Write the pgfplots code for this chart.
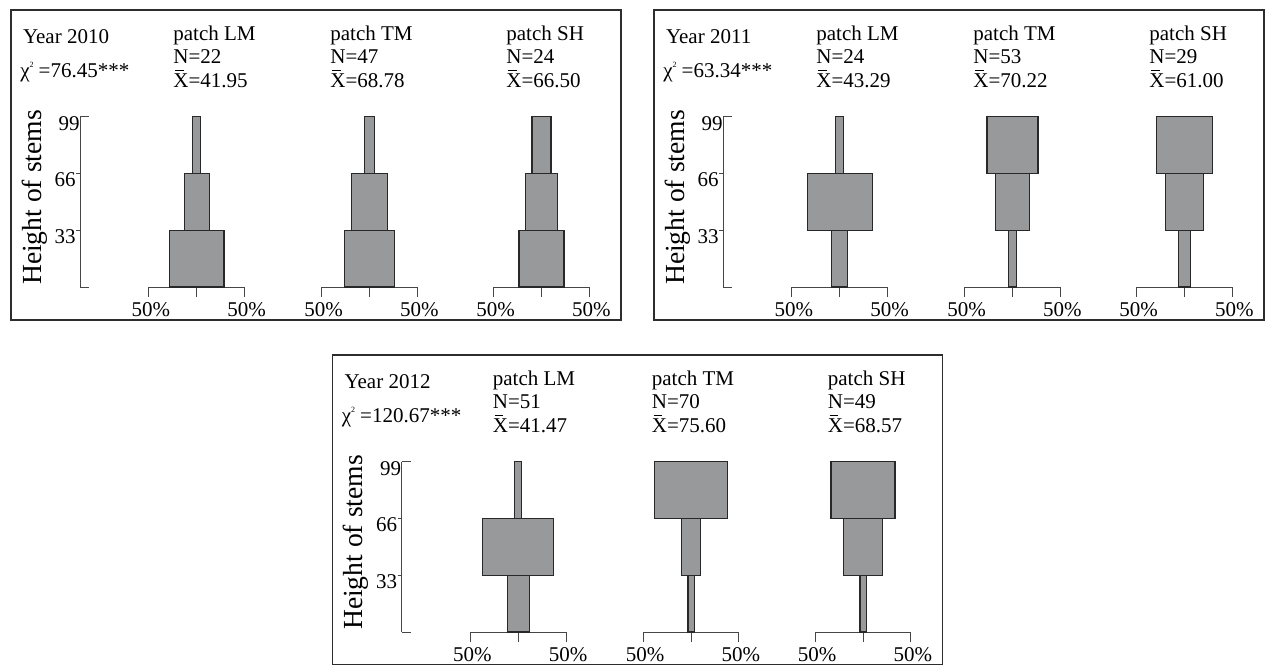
\documentclass[border=0pt]{standalone}
\usepackage{pgfplots}
\pgfplotsset{compat=1.18}
\usepackage{pgfplotstable}
\usepackage{fontspec}
\setmainfont{Liberation Serif}

\definecolor{barfill}{RGB}{152,153,155}
\definecolor{barline}{RGB}{40,40,40}
\definecolor{axisgray}{RGB}{70,70,70}
\definecolor{framec}{RGB}{45,45,45}

% share of stems (%) in each height class, per patch
\pgfplotstableread{
h    LM  TM  SH
16.5 57  53  47
49.5 26  37  33
82.5 8.5 11  20
}\yrA
\pgfplotstableread{
h    LM  TM   SH
16.5 17  8    12.5
49.5 68  35   39.5
82.5 8.5 53.5 58
}\yrB
\pgfplotstableread{
h    LM  TM  SH
16.5 23  6.5 6.5
49.5 74  20  40
82.5 7.5 76  67
}\yrC

\pgfplotsset{
  kite/.style={
    scale only axis, width=47.8pt, height=85.15pt,
    xmin=0, xmax=100, ymin=0, ymax=99, enlargelimits=false,
    anchor=south, clip=false,
    axis x line=bottom, axis y line=none,
    x axis line style={-}, axis line style={axisgray, line width=0.5pt},
    xtick={0,50,100}, xticklabels={50\%,,50\%},
    tick align=outside, major tick length=5pt,
    tick style={axisgray, line width=0.5pt},
    xticklabel style={font=\fontsize{10.5}{12}\selectfont, anchor=base, inner sep=0pt, yshift=-9.5pt, xshift=1pt},
    xbar stacked, bar width=33,
  },
  kitebar/.style={fill=barfill, draw=barline, line width=0.6pt},
  heightaxis/.style={
    scale only axis, width=10pt, height=85.15pt,
    xmin=0, xmax=1, ymin=0, ymax=99, enlargelimits=false,
    anchor=south west,
    axis y line=left, axis x line=none,
    y axis line style={-}, axis line style={axisgray, line width=0.5pt},
    tick style={axisgray, line width=0.5pt},
    ytick={33,66}, tick align=outside, major tick length=2pt,
    extra y ticks={0,99}, extra y tick labels={,99},
    extra y tick style={tick align=inside, major tick length=4.7pt},
    /pgf/number format/assume math mode=true,
    yticklabel style={font=\fontsize{10.5}{12}\selectfont, anchor=east, inner sep=0pt, yshift=-3.25pt},
    ylabel={Height of stems},
    every axis y label/.style={at={(axis description cs:0,0.5255)}, rotate=90, anchor=base, yshift=19.5pt, font=\fontsize{13.8}{15}\selectfont},
  },
}
\tikzset{txt/.style={anchor=base west, inner sep=0pt, font=\fontsize{10.5}{12}\selectfont}}

\newcommand\chisq{χ\raisebox{5pt}{\fontsize{4}{4}\selectfont 2}\hspace{2.5pt}}
\newcommand\Xbar{\rlap{\hspace{0.9pt}\rule[8.3pt]{4.2pt}{0.45pt}}X}

% #1,#2 panel offset (px), #3 kite centre x (px, local), #4 table, #5 column
% the kite is centred at 50: an unseen bar up to 50-p/2, then the bar of width p
\newcommand\kite[5]{%
  \begin{axis}[kite, at={({(#1+#3)*0.5pt},{-(#2+287)*0.5pt})}]
    \addplot[draw=none, fill=none] table[x expr=50-\thisrow{#5}/2, y=h]{#4};
    \addplot[kitebar] table[x=#5, y=h]{#4};
  \end{axis}}

% #1,#2 panel offset, #3 year, #4 chi-square, #5 table
\newcommand\panel[5]{%
  \draw[framec, line width=0.7pt] (#1+11,#2+10) rectangle (#1+621,#2+320);
  \node[txt] at (#1+22.7,#2+43.7) {Year #3};
  \node[txt] at (#1+20,#2+77) {\chisq=#4***};
  \begin{axis}[heightaxis, at={({(#1+80)*0.5pt},{-(#2+287)*0.5pt})}]
  \end{axis}
  \kite{#1}{#2}{196.7}{#5}{LM}
  \kite{#1}{#2}{369.5}{#5}{TM}
  \kite{#1}{#2}{541.5}{#5}{SH}}

% #1,#2 panel offset, #3 x (local), #4 patch, #5 N, #6 mean
\newcommand\stats[6]{%
  \node[txt] at (#1+#3,#2+40.3) {patch #4};
  \node[txt] at (#1+#3,#2+63.7) {N=#5};
  \node[txt] at (#1+#3,#2+87) {\Xbar=#6};}

\begin{document}
\begin{tikzpicture}[x=0.5pt, y=-0.5pt]
\useasboundingbox (0,0) rectangle (1267,664);

\panel{0}{0}{2010}{76.45}{\yrA}
\stats{0}{0}{173}{LM}{22}{41.95}
\stats{0}{0}{330}{TM}{47}{68.78}
\stats{0}{0}{506}{SH}{24}{66.50}

\panel{643}{0}{2011}{63.34}{\yrB}
\stats{643}{0}{173}{LM}{24}{43.29}
\stats{643}{0}{330}{TM}{53}{70.22}
\stats{643}{0}{506}{SH}{29}{61.00}

\panel{321.5}{345}{2012}{120.67}{\yrC}
\stats{321.5}{345}{171}{LM}{51}{41.47}
\stats{321.5}{345}{330}{TM}{70}{75.60}
\stats{321.5}{345}{506}{SH}{49}{68.57}
\end{tikzpicture}
\end{document}
